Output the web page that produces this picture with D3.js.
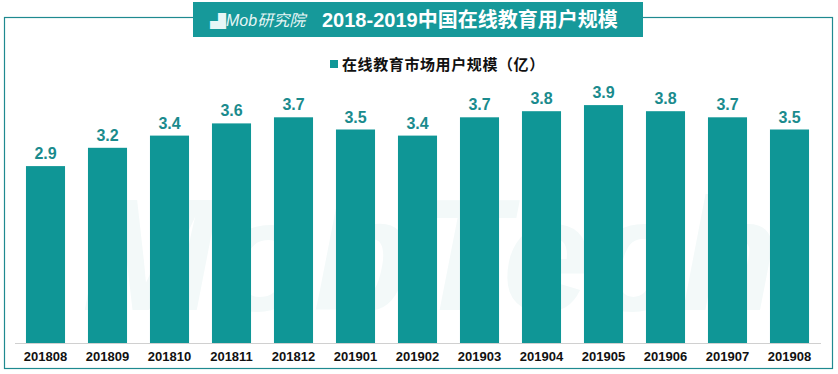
<!DOCTYPE html>
<html>
<head>
<meta charset="utf-8">
<script src="https://cdn.jsdelivr.net/npm/d3@7"></script>
<style>
  body { margin: 0; background: #fff; }
  text { font-family: Arial, "Liberation Sans", "Noto Sans CJK SC", sans-serif; }
</style>
</head>
<body>
<div id="container"></div>
<script>
// data
var months = ["201808", "201809", "201810", "201811", "201812", "201901", "201902",
              "201903", "201904", "201905", "201906", "201907", "201908"];
var users = [2.9, 3.2, 3.4, 3.6, 3.7, 3.5, 3.4, 3.7, 3.8, 3.9, 3.8, 3.7, 3.5];
var seriesName = "在线教育市场用户规模（亿）";
var title = "2018-2019中国在线教育用户规模";

var width = 838;
var height = 374;
var teal = "#0f9696";

const svg = d3.select("#container")
              .append("svg")
              .attr("width", width)
              .attr("height", height);

// faint watermark
svg.append("text")
   .attr("x", 430)
   .attr("y", 310)
   .attr("text-anchor", "middle")
   .style("font-size", "160px")
   .style("font-weight", "bold")
   .style("font-style", "italic")
   .style("fill", "#f3f9f9")
   .text("MobTech");

// frame
svg.append("rect")
   .attr("x", 4.5)
   .attr("y", 17.5)
   .attr("width", 828)
   .attr("height", 351)
   .attr("fill", "none")
   .attr("stroke", "#1f8a90")
   .attr("stroke-width", 1.2);

// title banner
svg.append("rect")
   .attr("x", 193)
   .attr("y", 2)
   .attr("width", 450)
   .attr("height", 35)
   .attr("fill", "#16999a");

svg.append("text")
   .attr("x", 210)
   .attr("y", 27)
   .style("font-size", "16px")
   .style("fill", "#e8f6f6")
   .text("▟");

svg.append("text")
   .attr("x", 226)
   .attr("y", 26)
   .style("font-size", "16px")
   .style("font-style", "italic")
   .style("fill", "#e8f6f6")
   .text("Mob研究院");

svg.append("text")
   .attr("x", 322)
   .attr("y", 27)
   .style("font-size", "20px")
   .style("font-weight", "bold")
   .style("fill", "#fff")
   .text(title);

// legend
svg.append("rect")
   .attr("x", 330)
   .attr("y", 60)
   .attr("width", 8)
   .attr("height", 8)
   .attr("fill", teal);

svg.append("text")
   .attr("x", 342)
   .attr("y", 70)
   .style("font-size", "15px")
   .style("font-weight", "bold")
   .style("letter-spacing", "0.6px")
   .style("fill", "#111")
   .text(seriesName);

// scales
var xScale = d3.scaleBand()
               .domain(months)
               .range([14.5, 820.5])
               .paddingInner(0.37)
               .paddingOuter(0.185);

var yScale = d3.scaleLinear()
               .domain([0, 4])
               .range([343, 99]);

// bars
svg.selectAll(".bar")
   .data(users)
   .enter()
   .append("rect")
   .attr("class", "bar")
   .attr("x", (d, i) => xScale(months[i]))
   .attr("y", (d) => yScale(d))
   .attr("width", xScale.bandwidth())
   .attr("height", (d) => yScale(0) - yScale(d))
   .attr("fill", teal);

// value labels
svg.selectAll(".val")
   .data(users)
   .enter()
   .append("text")
   .attr("class", "val")
   .attr("x", (d, i) => xScale(months[i]) + xScale.bandwidth() / 2)
   .attr("y", (d) => yScale(d) - 7)
   .attr("text-anchor", "middle")
   .style("font-size", "16px")
   .style("font-weight", "bold")
   .style("fill", "#1a8b8d")
   .text((d) => d.toFixed(1));

// x axis
var xAxis = d3.axisBottom(xScale).tickSize(0).tickPadding(9);

const gx = svg.append("g")
   .attr("transform", "translate(0," + yScale(0) + ")")
   .call(xAxis);

gx.select(".domain").attr("stroke", "#d0d0d0");
gx.selectAll("text")
  .style("font-size", "13px")
  .style("font-weight", "bold")
  .style("fill", "#111");
</script>
</body>
</html>
